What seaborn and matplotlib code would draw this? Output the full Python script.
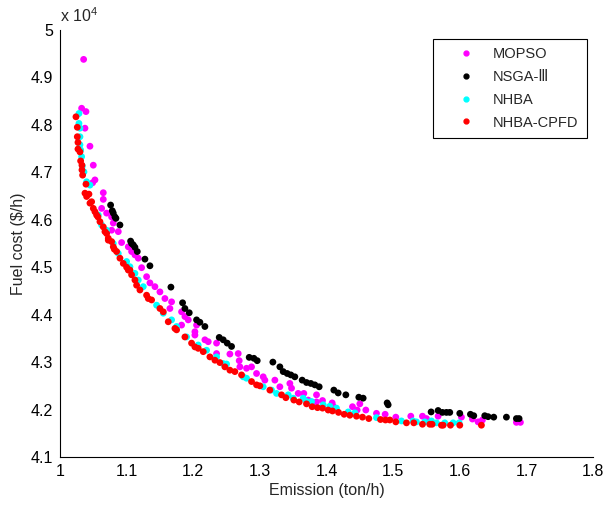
import numpy as np
import pandas as pd
import matplotlib
matplotlib.use("Agg")
import matplotlib.pyplot as plt
import seaborn as sns
from matplotlib.lines import Line2D

# ---------------- data (Emission ton/h, Fuel cost x1e4 $/h) ----------------
mopso_e = [1.0355, 1.0325, 1.039, 1.0375, 1.045, 1.050, 1.0525, 1.049, 1.065, 1.065,
           1.0625, 1.070, 1.0775, 1.080, 1.0775, 1.0875, 1.0925, 1.1025, 1.1075, 1.1125,
           1.1175, 1.1225, 1.130, 1.135, 1.1425, 1.150, 1.1575, 1.1675, 1.165, 1.1825,
           1.1875, 1.1925, 1.1825, 1.205, 1.2025, 1.2025, 1.2175, 1.2225, 1.235, 1.235,
           1.255, 1.2675, 1.269, 1.270, 1.280, 1.2875, 1.295, 1.305, 1.3075, 1.3225,
           1.330, 1.345, 1.3475, 1.3575, 1.366, 1.3725, 1.385, 1.385, 1.394, 1.4085,
           1.410, 1.439, 1.446, 1.450, 1.459, 1.475, 1.488, 1.504, 1.5265, 1.544,
           1.550, 1.5675, 1.6025, 1.619, 1.6275, 1.634, 1.685, 1.691]
mopso_f = [4.938, 4.835, 4.828, 4.793, 4.755, 4.715, 4.684, 4.678, 4.657, 4.643,
           4.624, 4.614, 4.606, 4.593, 4.578, 4.575, 4.552, 4.543, 4.533, 4.526,
           4.519, 4.499, 4.480, 4.467, 4.459, 4.448, 4.434, 4.427, 4.413, 4.406,
           4.396, 4.389, 4.378, 4.378, 4.364, 4.357, 4.347, 4.343, 4.340, 4.318,
           4.317, 4.318, 4.303, 4.290, 4.287, 4.290, 4.276, 4.269, 4.262, 4.262,
           4.248, 4.255, 4.245, 4.234, 4.234, 4.220, 4.231, 4.216, 4.219, 4.214,
           4.207, 4.206, 4.199, 4.212, 4.199, 4.192, 4.190, 4.184, 4.186, 4.186,
           4.181, 4.186, 4.184, 4.180, 4.174, 4.178, 4.173, 4.173]

nsga_e = [1.076, 1.0785, 1.080, 1.0825, 1.084, 1.090, 1.106, 1.1075, 1.110, 1.1125,
          1.116, 1.1275, 1.135, 1.1665, 1.184, 1.1875, 1.194, 1.205, 1.210, 1.2175,
          1.239, 1.245, 1.251, 1.2575, 1.284, 1.291, 1.296, 1.3195, 1.330, 1.335,
          1.341, 1.3465, 1.3525, 1.3635, 1.370, 1.3765, 1.3825, 1.389, 1.411, 1.4175,
          1.429, 1.4485, 1.455, 1.491, 1.4925, 1.557, 1.5675, 1.574, 1.580, 1.585,
          1.600, 1.616, 1.621, 1.6375, 1.6425, 1.651, 1.670, 1.685, 1.689]
nsga_f = [4.631, 4.619, 4.614, 4.606, 4.603, 4.589, 4.555, 4.550, 4.547, 4.542,
          4.533, 4.517, 4.503, 4.458, 4.425, 4.413, 4.404, 4.389, 4.384, 4.375,
          4.352, 4.347, 4.340, 4.333, 4.310, 4.308, 4.303, 4.300, 4.290, 4.280,
          4.276, 4.273, 4.269, 4.262, 4.257, 4.255, 4.252, 4.248, 4.241, 4.235,
          4.231, 4.226, 4.224, 4.214, 4.210, 4.195, 4.198, 4.194, 4.194, 4.194,
          4.192, 4.190, 4.187, 4.187, 4.185, 4.184, 4.184, 4.181, 4.181]

nhba_e = [1.0285, 1.0285, 1.030, 1.030, 1.030, 1.031, 1.0325, 1.0335, 1.036, 1.040,
          1.045, 1.0575, 1.0625, 1.070, 1.080, 1.0875, 1.100, 1.105, 1.1125, 1.1175,
          1.125, 1.145, 1.155, 1.1675, 1.175, 1.190, 1.2075, 1.220, 1.235, 1.245,
          1.250, 1.275, 1.280, 1.305, 1.3175, 1.325, 1.3425, 1.350, 1.365, 1.370,
          1.3775, 1.395, 1.405, 1.415, 1.4325, 1.4425, 1.475, 1.5125, 1.530, 1.535,
          1.5475, 1.5575, 1.565, 1.5775, 1.590, 1.599]
nhba_f = [4.824, 4.803, 4.793, 4.775, 4.758, 4.747, 4.733, 4.713, 4.701, 4.680,
          4.673, 4.610, 4.589, 4.578, 4.550, 4.529, 4.512, 4.501, 4.487, 4.473,
          4.459, 4.420, 4.403, 4.389, 4.375, 4.353, 4.336, 4.325, 4.311, 4.297,
          4.296, 4.269, 4.266, 4.248, 4.241, 4.234, 4.231, 4.224, 4.224, 4.217,
          4.217, 4.210, 4.207, 4.203, 4.195, 4.193, 4.183, 4.176, 4.176, 4.174,
          4.174, 4.176, 4.172, 4.172, 4.172, 4.172]

cpfd_e = [1.024, 1.026, 1.026, 1.027, 1.027, 1.030, 1.031, 1.033, 1.033, 1.034,
          1.039, 1.0375, 1.040, 1.0435, 1.045, 1.0475, 1.050, 1.0525, 1.055, 1.057,
          1.060, 1.065, 1.0675, 1.070, 1.0725, 1.0725, 1.0775, 1.080, 1.0815, 1.085,
          1.090, 1.095, 1.100, 1.1025, 1.105, 1.1075, 1.1125, 1.115, 1.120, 1.130,
          1.1325, 1.1375, 1.150, 1.155, 1.1625, 1.1725, 1.175, 1.1875, 1.1975, 1.2025,
          1.2075, 1.215, 1.225, 1.2325, 1.240, 1.2475, 1.255, 1.2625, 1.2725, 1.2875,
          1.295, 1.300, 1.315, 1.3325, 1.339, 1.351, 1.359, 1.370, 1.3785, 1.3865,
          1.394, 1.4025, 1.409, 1.418, 1.4265, 1.435, 1.445, 1.454, 1.4635, 1.481,
          1.4885, 1.495, 1.504, 1.520, 1.531, 1.544, 1.555, 1.5585, 1.5725, 1.575,
          1.586, 1.600, 1.6325]
cpfd_f = [4.817, 4.795, 4.775, 4.763, 4.749, 4.743, 4.724, 4.715, 4.705, 4.694,
          4.675, 4.656, 4.649, 4.654, 4.635, 4.638, 4.624, 4.617, 4.610, 4.606,
          4.596, 4.585, 4.575, 4.571, 4.561, 4.557, 4.554, 4.543, 4.538, 4.533,
          4.519, 4.508, 4.500, 4.494, 4.494, 4.484, 4.473, 4.462, 4.452, 4.441,
          4.434, 4.431, 4.413, 4.406, 4.385, 4.371, 4.368, 4.353, 4.340, 4.332,
          4.329, 4.322, 4.311, 4.304, 4.299, 4.290, 4.283, 4.280, 4.273, 4.259,
          4.252, 4.250, 4.241, 4.231, 4.225, 4.220, 4.216, 4.212, 4.206, 4.204,
          4.203, 4.199, 4.197, 4.194, 4.190, 4.188, 4.186, 4.184, 4.181, 4.179,
          4.178, 4.178, 4.174, 4.172, 4.172, 4.169, 4.169, 4.169, 4.167, 4.167,
          4.167, 4.167, 4.167]

series_names = ["MOPSO", "NSGA-Ⅲ", "NHBA", "NHBA-CPFD"]
series_colors = ["#ff00ff", "#000000", "#00ffff", "#ff0000"]
x_ticks = [1.0, 1.1, 1.2, 1.3, 1.4, 1.5, 1.6, 1.7, 1.8]
x_tick_labels = ["1", "1.1", "1.2", "1.3", "1.4", "1.5", "1.6", "1.7", "1.8"]
y_ticks = [4.1, 4.2, 4.3, 4.4, 4.5, 4.6, 4.7, 4.8, 4.9, 5.0]
y_tick_labels = ["4.1", "4.2", "4.3", "4.4", "4.5", "4.6", "4.7", "4.8", "4.9", "5"]

frames = []
for name, e, f in zip(series_names,
                      [mopso_e, nsga_e, nhba_e, cpfd_e],
                      [mopso_f, nsga_f, nhba_f, cpfd_f]):
    frames.append(pd.DataFrame({"Emission": e, "Fuel": f, "Algorithm": name}))
df = pd.concat(frames, ignore_index=True)

sns.set_style("white")
plt.rcParams["font.family"] = ["Liberation Sans", "DejaVu Sans"]
plt.rcParams["mathtext.fontset"] = "custom"
plt.rcParams["mathtext.rm"] = "Liberation Sans"

fig = plt.figure(figsize=(6.07, 5.08), dpi=100)
ax = fig.add_axes([0.0988, 0.1004, 0.8782, 0.8406])

sns.scatterplot(data=df, x="Emission", y="Fuel", hue="Algorithm",
                hue_order=series_names, palette=series_colors,
                s=24, linewidth=0, edgecolor="none", ax=ax, legend=False)

ax.set_xlim(1.0, 1.8)
ax.set_ylim(4.1, 5.0)
ax.set_xticks(x_ticks)
ax.set_xticklabels(x_tick_labels)
ax.set_yticks(y_ticks)
ax.set_yticklabels(y_tick_labels)
ax.tick_params(direction="in", length=4, width=0.8, labelsize=11.5, colors="black",
               pad=5)
for side in ["top", "right"]:
    ax.spines[side].set_visible(False)
for side in ["left", "bottom"]:
    ax.spines[side].set_color("black")
    ax.spines[side].set_linewidth(0.8)

ax.set_xlabel("Emission (ton/h)", fontsize=11.5, labelpad=3)
ax.set_ylabel("Fuel cost ($/h)", fontsize=11.5, labelpad=3)
ax.text(0.0, 1.012, r"x 10$^{4}$", transform=ax.transAxes, fontsize=11.5,
        ha="left", va="bottom")

handles = [Line2D([], [], marker="o", linestyle="none", markersize=3.5,
                  markerfacecolor=c, markeredgecolor=c) for c in series_colors]
leg = ax.legend(handles, series_names, loc="upper right",
                bbox_to_anchor=(0.988, 0.980), borderaxespad=0, fancybox=False,
                framealpha=1, edgecolor="black", fontsize=10.5,
                handlelength=3.4, handletextpad=0.1, labelspacing=0.6,
                borderpad=0.6)
leg.get_frame().set_linewidth(0.8)

fig.savefig("out.png", dpi=100)
